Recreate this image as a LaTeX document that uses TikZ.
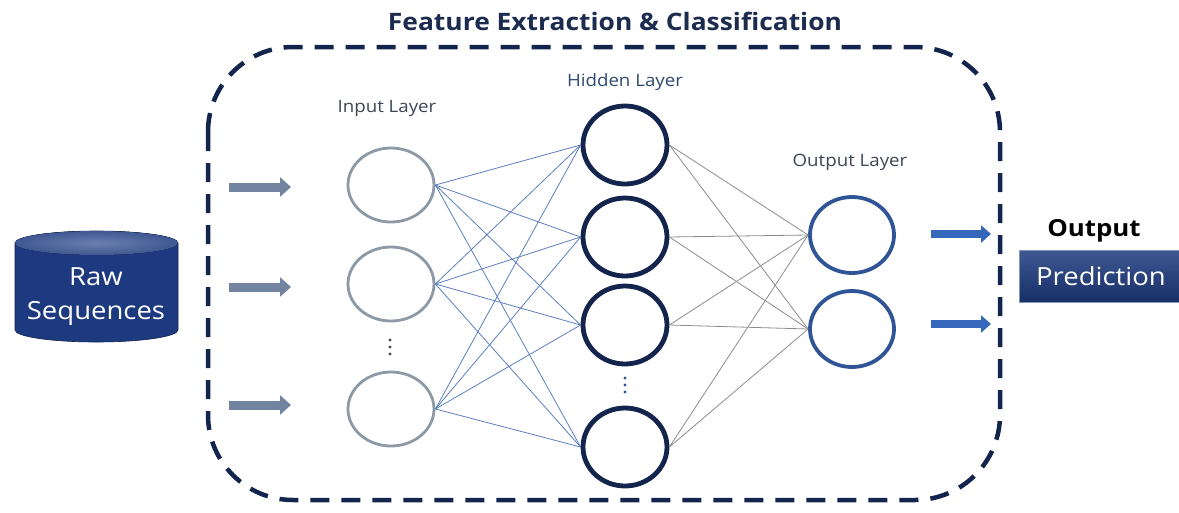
\documentclass[tikz,border=0pt]{standalone}
\usepackage{fontspec}
\setmainfont[FakeStretch=1.1]{Open Sans}
\usetikzlibrary{shapes.geometric,arrows.meta}
\definecolor{navy}{HTML}{13244D}
\definecolor{titlec}{HTML}{1C2B4E}
\definecolor{ingray}{HTML}{8E99A6}
\definecolor{outblue}{HTML}{2F5597}
\definecolor{edgeblue}{HTML}{5B7FC0}
\definecolor{edgegray}{HTML}{8C8C8C}
\definecolor{labgray}{HTML}{3C4656}
\definecolor{hidlab}{HTML}{2E4A72}
\definecolor{boxnavy}{HTML}{1D3A80}
\definecolor{arrgray}{HTML}{7384A0}
\definecolor{arrblue}{HTML}{3567BA}
\tikzset{
  inneuron/.style={ellipse, draw=ingray, line width=2.8pt, minimum width=86pt, minimum height=74pt, inner sep=0pt},
  hidneuron/.style={ellipse, draw=navy, line width=4.8pt, minimum width=84pt, minimum height=78pt, inner sep=0pt},
  outneuron/.style={ellipse, draw=outblue, line width=3.8pt, minimum width=84pt, minimum height=76pt, inner sep=0pt},
  ihedge/.style={draw=edgeblue, line width=0.8pt},
  hoedge/.style={draw=edgegray, line width=0.8pt},
  layerlab/.style={font=\fontsize{17}{20}\selectfont},
  inarrow/.style={draw=arrgray, line width=9pt, -{Triangle[length=11pt,width=19pt]}},
  outarrow/.style={draw=arrblue, line width=8pt, -{Triangle[length=10pt,width=17pt]}},
  dotsym/.style={circle, fill=#1, inner sep=0pt, minimum size=3.4pt}
}
\begin{document}
\begin{tikzpicture}[x=1pt,y=-1pt]
\useasboundingbox (0,0) rectangle (1179,512);
% title
\node[font=\fontsize{24}{28}\selectfont\bfseries, text=titlec] (title) at (615,21) {Feature Extraction \& Classification};
% dashed frame
\draw[navy, line width=4.5pt, dash pattern=on 19pt off 12pt, rounded corners=85pt] (208,47) rectangle (1000,500);
% layer labels
\node[layerlab, text=labgray] (inlab) at (387,108) {Input Layer};
\node[layerlab, text=hidlab] (hidlab) at (625,82) {Hidden Layer};
\node[layerlab, text=labgray] (outlab) at (850,162) {Output Layer};
% neurons
\node[inneuron] (i1) at (391,185) {};
\node[inneuron] (i2) at (391,284) {};
\node[inneuron] (i3) at (391,409) {};
\node[hidneuron] (h1) at (625,145) {};
\node[hidneuron] (h2) at (625,237) {};
\node[hidneuron] (h3) at (625,325) {};
\node[hidneuron] (h4) at (625,447) {};
\node[outneuron] (o1) at (852,235) {};
\node[outneuron] (o2) at (852,329) {};
% dots
\foreach \k/\yy in {a/340,b/347,c/354} \node[dotsym=labgray] (id\k) at (390,\yy) {};
\foreach \k/\yy in {a/378,b/385,c/392} \node[dotsym=outblue] (hd\k) at (625,\yy) {};
% edges
\foreach \i in {1,2,3} \foreach \h in {1,2,3,4} \draw[ihedge] (i\i.east) -- (h\h.west);
\foreach \h in {1,2,3,4} \foreach \o in {1,2} \draw[hoedge] (h\h.east) -- (o\o.west);
% raw sequences cylinder
\coordinate (rawc) at (96.5,286);
\draw[fill=boxnavy, draw=boxnavy!60!black, line width=0.6pt]
  (15,243) -- (15,330) arc[start angle=180, end angle=360, x radius=81.5pt, y radius=12pt]
  -- (178,243) arc[start angle=0, end angle=180, x radius=81.5pt, y radius=12pt] -- cycle;
\fill[inner color=boxnavy!65!white, outer color=boxnavy!85!white] (96.5,243) ellipse [x radius=81.5pt, y radius=12pt];
\node[text=white, align=center, font=\fontsize{25}{34}\selectfont] (rawtxt) at (96,297) {Raw\\Sequences};
% input arrows
\coordinate (a1s) at (229,187); \coordinate (a1e) at (291,187);
\coordinate (a2s) at (229,287); \coordinate (a2e) at (291,287);
\coordinate (a3s) at (229,405); \coordinate (a3e) at (291,405);
\draw[inarrow] (a1s) -- (a1e);
\draw[inarrow] (a2s) -- (a2e);
\draw[inarrow] (a3s) -- (a3e);
% output arrows
\coordinate (b1s) at (931,234); \coordinate (b1e) at (991,234);
\coordinate (b2s) at (931,324); \coordinate (b2e) at (991,324);
\draw[outarrow] (b1s) -- (b1e);
\draw[outarrow] (b2s) -- (b2e);
% output prediction
\node[font=\fontsize{23.5}{28}\selectfont\bfseries, text=black] (outtxt) at (1094,231) {Output};
\node[rectangle, top color=boxnavy!85!white, bottom color=boxnavy!80!black, draw=boxnavy!55!white, line width=1pt,
      minimum width=164pt, minimum height=52pt, text=white, font=\fontsize{25}{30}\selectfont] (pred) at (1101,276) {Prediction};
\end{tikzpicture}
\end{document}
